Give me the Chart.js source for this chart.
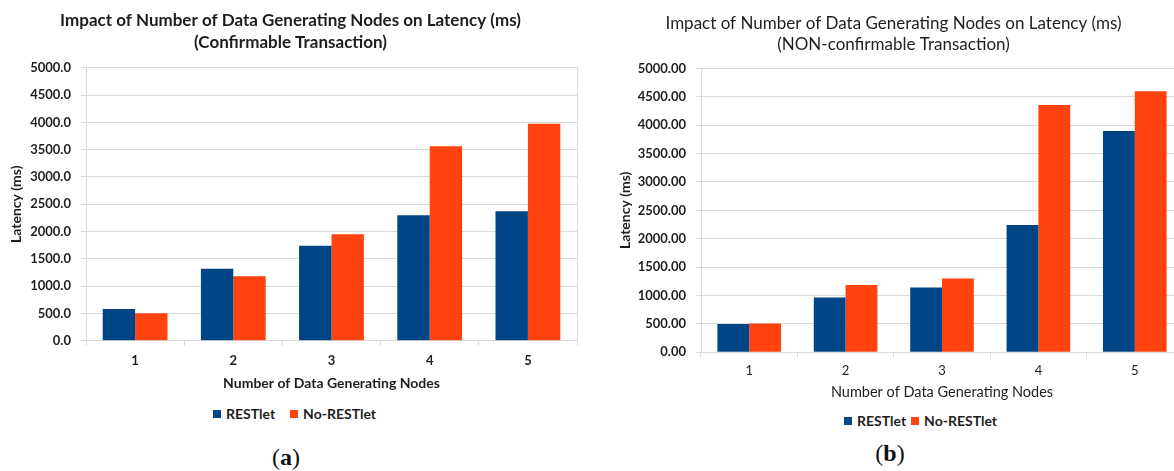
<!DOCTYPE html>
<html>
<head>
<meta charset="utf-8">
<script src="https://cdn.jsdelivr.net/npm/chart.js@4.4.0/dist/chart.umd.min.js"></script>
<style>
  body { margin: 0; width: 1174px; height: 471px; overflow: hidden; background: #fff; position: relative; font-family: Lato, sans-serif; }
  .box { position: absolute; top: 0; }
  .legend { position: absolute; display: flex; align-items: center; font: bold 14px Lato, sans-serif; color: #1e1e1e; white-space: nowrap; }
  .legend i { display: inline-block; width: 8px; height: 8px; margin-right: 5px; }
  .cap { position: absolute; font: 24px "Liberation Serif", serif; color: #111; transform: translate(-50%, -50%); }
  .cap b { font-weight: bold; }
</style>
</head>
<body>
<div class="box" style="left:0;width:581px;height:400px"><canvas id="chart-a"></canvas></div>
<div class="box" style="left:590px;width:600px;height:410px"><canvas id="chart-b"></canvas></div>
<div class="legend" id="legend-a" style="left:213px;top:405px"></div>
<div class="legend" id="legend-b" style="left:844px;top:412px"></div>
<div class="cap" style="left:286px;top:457px">(<b>a</b>)</div>
<div class="cap" style="left:890px;top:453px">(<b>b</b>)</div>
<script>
const categories = ["1", "2", "3", "4", "5"];
const seriesNames = ["RESTlet", "No-RESTlet"];
const colors = ["#004586", "#ff420e"];

// (a) confirmable transaction
const confRestlet = [580, 1320, 1740, 2300, 2370];
const confNoRestlet = [505, 1180, 1950, 3560, 3975];

// (b) NON-confirmable transaction
const nonRestlet = [495, 965, 1140, 2240, 3900];
const nonNoRestlet = [505, 1185, 1300, 4355, 4600];

const yMax = 5000;
const yStep = 500;

const textColor = "#1e1e1e";
const gridColor = "#d9d9d9";

Chart.defaults.font.family = "Lato, sans-serif";
Chart.defaults.color = textColor;

function makeChart(id, cfg) {
  const ctx = document.getElementById(id).getContext("2d");
  return new Chart(ctx, {
    type: "bar",
    data: {
      labels: categories,
      datasets: [
        { label: seriesNames[0], data: cfg.a, backgroundColor: colors[0], borderWidth: 0 },
        { label: seriesNames[1], data: cfg.b, backgroundColor: colors[1], borderWidth: 0 }
      ]
    },
    options: {
      responsive: true,
      maintainAspectRatio: false,
      animation: false,
      categoryPercentage: 0.66,
      barPercentage: 1.0,
      layout: { padding: cfg.padding },
      plugins: {
        legend: { display: false },
        tooltip: { enabled: false },
        title: {
          display: true,
          text: cfg.title,
          color: textColor,
          font: cfg.titleFont,
          padding: cfg.titlePadding
        }
      },
      scales: {
        x: {
          grid: {
            offset: true,
            drawOnChartArea: cfg.rightBorder,
            color: c => (c.tick ? "transparent" : gridColor),
            tickColor: gridColor,
            tickLength: 5
          },
          border: { color: gridColor },
          ticks: { font: cfg.xTickFont, padding: cfg.xTickPad, color: textColor },
          title: {
            display: true,
            text: "Number of Data Generating Nodes",
            font: cfg.xTitleFont,
            color: textColor,
            padding: cfg.xTitlePad
          }
        },
        y: {
          min: 0,
          max: yMax,
          grid: { color: gridColor, tickLength: 5 },
          border: { color: gridColor },
          afterFit: s => { s.width = cfg.yWidth; },
          ticks: {
            stepSize: yStep,
            font: { size: 13, weight: "bold" },
            padding: 10,
            color: textColor,
            callback: v => v.toFixed(cfg.decimals)
          },
          title: {
            display: true,
            text: "Latency (ms)",
            font: { size: 14, weight: "bold" },
            color: textColor,
            padding: cfg.yTitlePad
          }
        }
      }
    }
  });
}

function renderLegend(id) {
  const el = document.getElementById(id);
  el.innerHTML = seriesNames.map((n, i) =>
    `<i style="background:${colors[i]}"></i><span style="margin-right:${id === "legend-a" ? 15 : 5}px">${n}</span>`
  ).join("");
}

makeChart("chart-a", {
  a: confRestlet,
  b: confNoRestlet,
  title: ["Impact of Number of Data Generating Nodes on Latency (ms)", "(Confirmable Transaction)"],
  titleFont: { size: 17, weight: "bold", lineHeight: 22 / 17 },
  titlePadding: { top: 10, bottom: 13.7 },
  padding: { left: 4, right: 4, top: 0, bottom: 5.4 },
  yWidth: 82,
  yTitlePad: { top: 3.6, bottom: 4 },
  decimals: 1,
  xTickFont: { size: 13, weight: "bold" },
  xTickPad: 7.2,
  xTitleFont: { size: 14, weight: "bold" },
  xTitlePad: { top: -1, bottom: 3 },
  rightBorder: true
});

makeChart("chart-b", {
  a: nonRestlet,
  b: nonNoRestlet,
  title: ["Impact of Number of Data Generating Nodes on Latency (ms)", "(NON-confirmable Transaction)"],
  titleFont: { size: 17, weight: "normal", lineHeight: 21 / 17 },
  titlePadding: { top: 13.5, bottom: 13 },
  padding: { left: 14, right: 7, top: 0, bottom: 6.4 },
  yWidth: 97,
  yTitlePad: { top: 12.6, bottom: 4 },
  decimals: 2,
  xTickFont: { size: 13, weight: "normal" },
  xTickPad: 6.2,
  xTitleFont: { size: 14.5, weight: "normal" },
  xTitlePad: { top: -2, bottom: 3 },
  rightBorder: false
});

renderLegend("legend-a");
renderLegend("legend-b");
</script>
</body>
</html>
